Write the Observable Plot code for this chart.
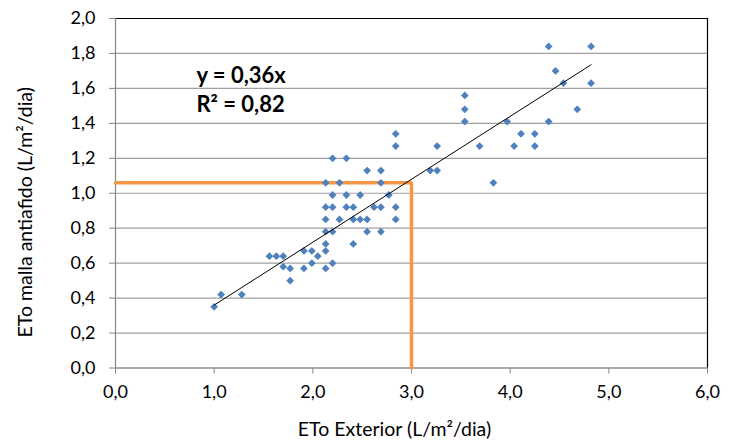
<!DOCTYPE html>
<html>
<head>
<meta charset="utf-8">
<script src="https://cdn.jsdelivr.net/npm/d3@7"></script>
<script src="https://cdn.jsdelivr.net/npm/@observablehq/plot@0.6"></script>
<style>
  html, body { margin: 0; padding: 0; background: #fff; }
  svg { font-family: Lato, "Open Sans", sans-serif; }
</style>
</head>
<body>
<div id="chart"></div>
<script>
// ETo Exterior (x) and ETo malla antiafido (y)
const etoExterior = [
  1.00, 1.07, 1.28,
  1.56, 1.63, 1.70, 1.70, 1.77, 1.77,
  1.91, 1.91, 1.99, 1.99, 2.05,
  2.13, 2.13, 2.13, 2.20, 2.41,
  2.13, 2.20, 2.55, 2.69,
  2.13, 2.27, 2.41, 2.48, 2.55, 2.84,
  2.13, 2.20, 2.34, 2.41, 2.62, 2.69, 2.84,
  2.20, 2.34, 2.48, 2.77,
  2.13, 2.27, 2.69, 3.83,
  2.55, 2.69, 3.19, 3.26,
  2.20, 2.34,
  2.84, 3.26, 3.69, 4.04, 4.25,
  2.84, 4.11, 4.25,
  3.54, 3.97, 4.39,
  3.54, 4.68,
  3.54,
  4.54, 4.82,
  4.46,
  4.39, 4.82
];
const etoMalla = [
  0.35, 0.42, 0.42,
  0.64, 0.64, 0.64, 0.58, 0.57, 0.50,
  0.67, 0.57, 0.67, 0.60, 0.64,
  0.71, 0.67, 0.57, 0.60, 0.71,
  0.78, 0.78, 0.78, 0.78,
  0.85, 0.85, 0.85, 0.85, 0.85, 0.85,
  0.92, 0.92, 0.92, 0.92, 0.92, 0.92, 0.92,
  0.99, 0.99, 0.99, 0.99,
  1.06, 1.06, 1.06, 1.06,
  1.13, 1.13, 1.13, 1.13,
  1.20, 1.20,
  1.27, 1.27, 1.27, 1.27, 1.27,
  1.34, 1.34, 1.34,
  1.41, 1.41, 1.41,
  1.48, 1.48,
  1.56,
  1.63, 1.63,
  1.70,
  1.84, 1.84
];
const slope = 0.36;
const equationLines = ["y = 0,36x", "R² = 0,82"];
const equationX = [0.82, 0.82];
const equationY = [1.67, 1.505];
const refX = 3.0;
const refY = 1.06;
const xTicks = [0, 1, 2, 3, 4, 5, 6];
const yTicks = [0, 0.2, 0.4, 0.6, 0.8, 1.0, 1.2, 1.4, 1.6, 1.8, 2.0];
const xLabel = "ETo Exterior (L/m²/dia)";
const yLabel = "ETo malla antiafido (L/m²/dia)";

const points = etoExterior.map((x, i) => ({x, y: etoMalla[i]}));
const xMin = d3.min(etoExterior), xMax = d3.max(etoExterior);
const trend = [{x: xMin, y: slope * xMin}, {x: xMax, y: slope * xMax}];
const refPath = [{x: 0, y: refY}, {x: refX, y: refY}, {x: refX, y: 0}];
const eq = equationLines.map((t, i) => ({t, x: equationX[i], y: equationY[i]}));
const fmt = d => d3.format(".1f")(d).replace(".", ",");

const chart = Plot.plot({
  width: 735,
  height: 447,
  marginLeft: 115,
  marginRight: 28,
  marginTop: 18,
  marginBottom: 79.5,
  style: {fontFamily: "Lato, 'Open Sans', sans-serif", background: "#fff"},
  x: {domain: [0, 6]},
  y: {domain: [0, 2]},
  marks: [
    Plot.gridY(yTicks, {stroke: "#a0a0a0", strokeOpacity: 1, strokeWidth: 1.2}),
    Plot.axisY(yTicks, {tickFormat: fmt, tickSize: 6, tickPadding: 14, fontSize: 18, label: null, stroke: "#868686", fill: "#000"}),
    Plot.axisX(xTicks, {tickFormat: fmt, tickSize: 6, tickPadding: 11, fontSize: 18, label: null, stroke: "#868686", fill: "#000"}),
    Plot.ruleY([2], {stroke: "#000", strokeWidth: 1.2}),
    Plot.ruleX([6], {stroke: "#000", strokeWidth: 1.2}),
    Plot.ruleX([0], {stroke: "#868686", strokeWidth: 1.2}),
    Plot.ruleY([0], {stroke: "#868686", strokeWidth: 1.2}),
    Plot.line(refPath, {x: "x", y: "y", stroke: "#F79646", strokeWidth: 3.5, strokeLinejoin: "miter"}),
    Plot.dot(points, {x: "x", y: "y", symbol: "diamond2", r: 3.5, fill: "#4F81BD", stroke: "none"}),
    Plot.line(trend, {x: "x", y: "y", stroke: "#000", strokeWidth: 1}),
    Plot.text(eq, {x: "x", y: "y", text: "t", textAnchor: "start", fontSize: 22, fontWeight: "bold", fill: "#000"}),
    Plot.text([yLabel], {frameAnchor: "left", textAnchor: "middle", dx: -90, dy: 19, rotate: -90, fontSize: 19.5, fill: "#000"}),
    Plot.text([xLabel], {frameAnchor: "bottom", textAnchor: "middle", dx: -17, dy: 68, fontSize: 19.5, fill: "#000"})
  ]
});
document.getElementById("chart").appendChild(chart);
</script>
</body>
</html>
